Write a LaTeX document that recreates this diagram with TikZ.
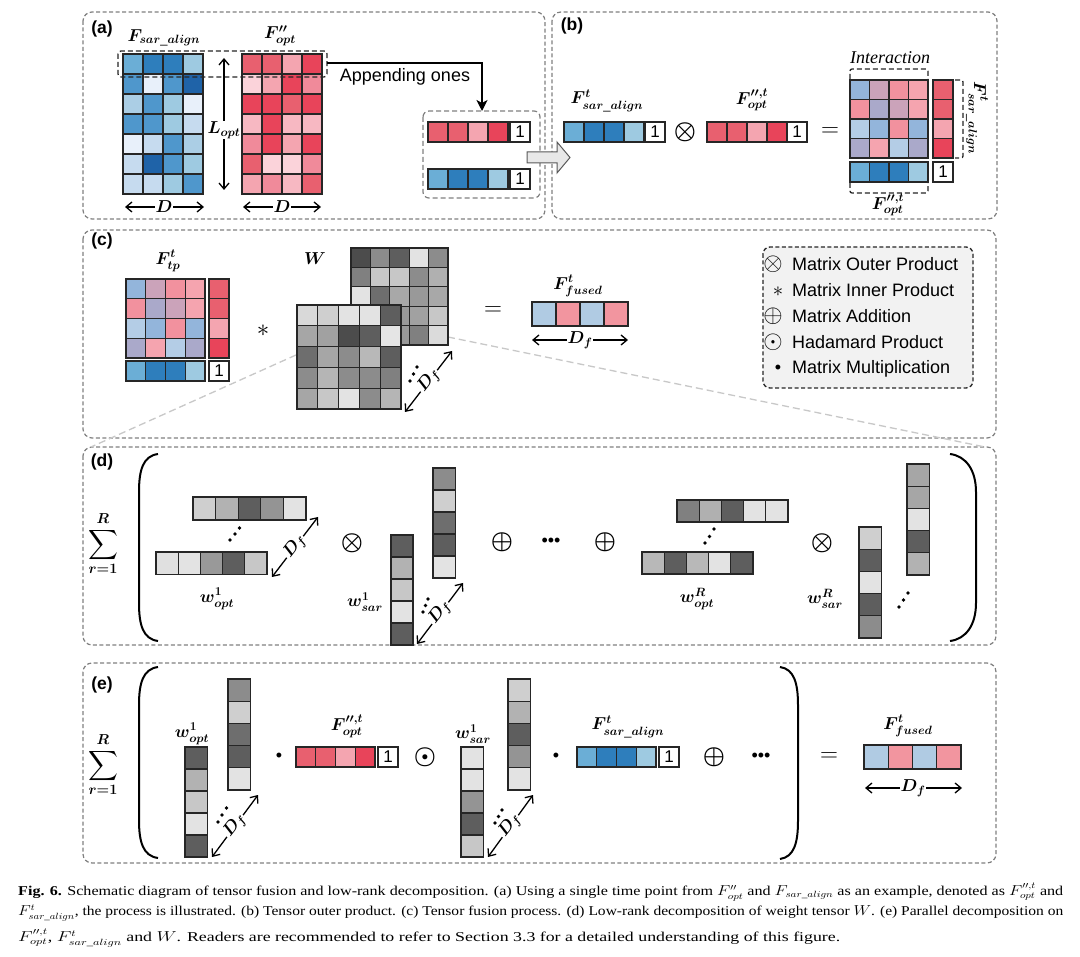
\documentclass[tikz,border=0pt]{standalone}
\usepackage{fontspec}
\setmainfont{Liberation Sans}
\newfontfamily\capfont{Liberation Serif}
\usepackage{amsmath}
\usepackage{bm}
\usepackage{graphicx}
\usetikzlibrary{arrows.meta}
\definecolor{bA}{HTML}{6BAED6}
\definecolor{bB}{HTML}{2E7EBC}
\definecolor{bC}{HTML}{9ECAE1}
\definecolor{bD}{HTML}{1F63A8}
\definecolor{bE}{HTML}{E8F0FA}
\definecolor{bF}{HTML}{C6DBEF}
\definecolor{bG}{HTML}{4F97CC}
\definecolor{bH}{HTML}{ABCEE5}
\definecolor{rA}{HTML}{E8606F}
\definecolor{rB}{HTML}{F4A5B0}
\definecolor{rC}{HTML}{E8445A}
\definecolor{rD}{HTML}{FBD3DA}
\definecolor{rE}{HTML}{F08A9A}
\definecolor{rF}{HTML}{F7B8C2}
\definecolor{mA}{HTML}{93B5DB}
\definecolor{mB}{HTML}{CBA3BA}
\definecolor{mC}{HTML}{F2919E}
\definecolor{mD}{HTML}{F5A4AF}
\definecolor{mE}{HTML}{AAA9CA}
\definecolor{mF}{HTML}{B4CDE6}
\definecolor{fB}{HTML}{B0CBE3}
\definecolor{fR}{HTML}{F2959F}
\definecolor{panel}{HTML}{808080}
\definecolor{zoomline}{HTML}{C8C8C8}
\definecolor{legfill}{HTML}{F2F2F2}
\definecolor{arrfill}{HTML}{E8E8E8}
\newcommand{\hcells}[5]{\foreach \cc [count=\ii from 0] in {#5}{\draw[cell,fill=\cc] ({#1+\ii*#3},{#2}) rectangle ++(#3,#4);}}
\newcommand{\vcells}[5]{\foreach \cc [count=\ii from 0] in {#5}{\draw[cell,fill=\cc] ({#1},{#2+\ii*#4}) rectangle ++(#3,#4);}}
\newcommand{\tdots}[6]{\fill (#1,#2) circle (1.8); \fill (#3,#4) circle (1.8); \fill (#5,#6) circle (1.8);}
\tikzset{
  cell/.style={draw=black!85, line width=1.2},
  panelbox/.style={draw=panel, dash pattern=on 4pt off 2.5pt, line width=1.2, rounded corners=9},
  selbox/.style={draw=black!85, dash pattern=on 5pt off 3pt, line width=1.3},
  lbl/.style={font=\fontsize{18.5}{22}\selectfont\boldmath, inner sep=1},
  sans/.style={font=\fontsize{18}{21}\selectfont, inner sep=0},
  plab/.style={font=\fontsize{17.5}{20}\selectfont\bfseries, inner sep=0},
  onebox/.style={draw=black!85, line width=1.2, fill=white, minimum width=20, minimum height=20, inner sep=0, font=\fontsize{17}{20}\selectfont},
  opsym/.style={font=\fontsize{26}{28}\selectfont\boldmath, inner sep=0},
  eqsym/.style={font=\fontsize{24}{26}\selectfont, inner sep=0},
  dotsym/.style={font=\fontsize{18}{22}\selectfont, inner sep=0},
  legsym/.style={font=\fontsize{26}{28}\selectfont, inner sep=0},
  dimarr/.style={{Straight Barb[length=6,width=10]}-{Straight Barb[length=6,width=10]}, line width=1.3},
  dimlbl/.style={font=\fontsize{18}{21}\selectfont\boldmath, fill=white, inner sep=1},
  sumlbl/.style={font=\fontsize{21}{24}\selectfont\boldmath, inner sep=0},
  paren/.style={line width=2},
  zoomln/.style={draw=zoomline, dash pattern=on 7pt off 4pt, line width=1.3},
  capline/.style={anchor=west, inner sep=0},
}
\begin{document}
\begin{tikzpicture}[x=1pt,y=-1pt]
\useasboundingbox (0,0) rectangle (1080,957);
\fill[white] (0,0) rectangle (1080,957);

% ---------- panel frames ----------
\draw[panelbox] (83,12) rectangle (545,219);
\draw[panelbox] (552,12) rectangle (997,219);
\draw[panelbox] (83,230) rectangle (996,438);
\draw[panelbox] (83,447) rectangle (996,645);
\draw[panelbox] (83,663) rectangle (996,863);

\node[plab] (pa) at (102,29) {(a)};
\node[plab] (pb) at (572,26) {(b)};
\node[plab] (pc) at (102,241) {(c)};
\node[plab] (pd) at (102,462) {(d)};
\node[plab] (pe) at (102,685) {(e)};

% ---------- (a) ----------
\node[lbl] (Fsar) at (164,38) {$F_{sar\_align}$};
\node[lbl] (Fopt) at (280,36) {$F''_{opt}$};
\hcells{123}{54}{20}{20}{bA,bB,bB,bC}
\hcells{123}{74}{20}{20}{bG,bE,bG,bD}
\hcells{123}{94}{20}{20}{bH,bG,bC,bE}
\hcells{123}{114}{20}{20}{bG,bG,bC,bF}
\hcells{123}{134}{20}{20}{bE,bF,bG,bH}
\hcells{123}{154}{20}{20}{bF,bD,bG,bC}
\hcells{123}{174}{20}{20}{bF,bF,bC,bG}
\hcells{242}{54}{20}{20}{rA,rA,rB,rC}
\hcells{242}{74}{20}{20}{rD,rB,rC,rE}
\hcells{242}{94}{20}{20}{rC,rC,rA,rC}
\hcells{242}{114}{20}{20}{rF,rC,rF,rF}
\hcells{242}{134}{20}{20}{rE,rC,rB,rC}
\hcells{242}{154}{20}{20}{rA,rD,rD,rE}
\hcells{242}{174}{20}{20}{rB,rE,rF,rA}
\draw[selbox, rounded corners=3] (118,51) rectangle (327,77);
\coordinate (Lt) at (224,58);
\coordinate (Lb) at (224,190);
\draw[dimarr] (Lt) -- (Lb);
\node[dimlbl] (Lopt) at (224,130) {$L_{opt}$};
\coordinate (Da1) at (125,207); \coordinate (Da2) at (204,207);
\draw[dimarr] (Da1) -- (Da2);
\node[dimlbl] (Da) at (164,207) {$D$};
\coordinate (Db1) at (243,207); \coordinate (Db2) at (321,207);
\draw[dimarr] (Db1) -- (Db2);
\node[dimlbl] (Db) at (282,207) {$D$};
\coordinate (selR) at (327,63);
\coordinate (appT) at (482,111);
\draw[line width=1.3, -{Stealth[length=11,width=11,inset=3]}] (selR) -| (appT);
\node[sans] (app) at (405,77) {Appending ones};
\draw[draw=panel, dash pattern=on 5pt off 3pt, line width=1.2, rounded corners=6] (423,111) rectangle (540,198);
\hcells{428}{122}{20}{20}{rA,rA,rB,rC}
\node[onebox] (oneA1) at (520,132) {1};
\hcells{428}{169}{20}{20}{bA,bB,bB,bC}
\node[onebox] (oneA2) at (520,179) {1};
\draw[fill=arrfill, draw=black!65, line width=1] (527,152) -- (557,152) -- (557,142) -- (570,157.5) -- (557,173) -- (557,163) -- (527,163) -- cycle;

% ---------- (b) ----------
\node[lbl] (bFs) at (607,101) {$F^{t}_{sar\_align}$};
\hcells{564}{122}{20}{20}{bA,bB,bB,bC}
\node[onebox] (oneB1) at (655,132) {1};
\node[opsym] (otB) at (685,132) {$\otimes$};
\node[lbl] (bFo) at (752,100) {$F^{\prime\prime,t}_{opt}$};
\hcells{707}{122}{20}{20}{rA,rA,rB,rC}
\node[onebox] (oneB2) at (797,132) {1};
\node[eqsym] (eqB) at (830,132) {$=$};
\node[font=\capfont\itshape\fontsize{18}{20}\selectfont, inner sep=0] (inter) at (890,58) {Interaction};
\hcells{850}{80}{19.5}{19.5}{mA,mB,mC,mD}
\hcells{850}{99.5}{19.5}{19.5}{mC,mE,mB,mD}
\hcells{850}{119}{19.5}{19.5}{mF,mA,mC,mA}
\hcells{850}{138.5}{19.5}{19.5}{mE,mD,mF,mE}
\vcells{933}{80}{20}{19.5}{rA,rA,rB,rC}
\hcells{850}{162}{19.5}{20}{bA,bB,bB,bC}
\node[onebox] (oneB3) at (943,172) {1};
\draw[selbox, rounded corners=2] (850,79) -- (850,69) -- (928,69) -- (928,79);
\draw[selbox, rounded corners=2] (850,183) -- (850,193) -- (928,193) -- (928,183);
\draw[selbox, rounded corners=2] (955,80) -- (963,80) -- (963,158) -- (955,158);
\node[lbl, rotate=-90] (bFs2) at (977,118) {$F^{t}_{sar\_align}$};
\node[lbl] (bFo2) at (888,205) {$F^{\prime\prime,t}_{opt}$};

% ---------- (c) ----------
\draw[zoomln] (296,355) -- (91,447);
\draw[zoomln] (448,337) -- (985,447);
\node[lbl] (Ftp) at (168,261) {$F^{t}_{tp}$};
\hcells{126}{279}{19.75}{19.75}{mA,mB,mC,mD}
\hcells{126}{298.75}{19.75}{19.75}{mC,mE,mB,mD}
\hcells{126}{318.5}{19.75}{19.75}{mF,mA,mC,mA}
\hcells{126}{338.25}{19.75}{19.75}{mE,mD,mF,mE}
\vcells{209}{279}{20}{19.75}{rA,rA,rB,rC}
\hcells{126}{361}{19.75}{20}{bA,bB,bB,bC}
\node[onebox] (oneC) at (219,371) {1};
\node[font=\fontsize{30}{32}\selectfont, inner sep=0] (astC) at (263,331) {$\ast$};
\node[lbl] (Wlab) at (315,259) {$W$};
\hcells{351}{248}{19.4}{19.4}{black!70,black!45,black!63,black!11,black!45}
\hcells{351}{267.4}{19.4}{19.4}{black!50,black!22,black!22,black!45,black!31}
\hcells{351}{286.8}{19.4}{19.4}{black!11,black!57,black!34,black!40,black!34}
\hcells{351}{306.2}{19.4}{19.4}{black!40,black!40,black!40,black!37,black!22}
\hcells{351}{325.6}{19.4}{19.4}{black!40,black!40,black!40,black!50,black!14}
\hcells{297}{305}{20.8}{20.8}{black!15,black!19,black!11,black!11,black!63}
\hcells{297}{325.8}{20.8}{20.8}{black!35,black!37,black!70,black!63,black!10}
\hcells{297}{346.6}{20.8}{20.8}{black!57,black!35,black!45,black!28,black!63}
\hcells{297}{367.4}{20.8}{20.8}{black!45,black!29,black!45,black!45,black!50}
\hcells{297}{388.2}{20.8}{20.8}{black!35,black!22,black!11,black!45,black!29}
\tdots{410}{381}{413.5}{374}{417}{367}
\coordinate (Dc1) at (405,412); \coordinate (Dc2) at (452,351);
\draw[dimarr] (Dc1) -- (Dc2);
\node[dimlbl, rotate=52] (Dc) at (429,381) {$D_f$};
\node[eqsym] (eqC) at (493,311) {$=$};
\node[lbl] (Ffc) at (578,286) {$F^{t}_{fused}$};
\hcells{532}{302}{24}{24}{fB,fR,fB,fR}
\coordinate (Df1) at (532,340); \coordinate (Df2) at (628,340);
\draw[dimarr] (Df1) -- (Df2);
\node[dimlbl] (Dfc) at (580,340) {$D_f$};
% legend
\draw[draw=black!85, fill=legfill, dash pattern=on 4pt off 2.5pt, line width=1.3, rounded corners=7] (763,247) rectangle (973,388);
\node[legsym] (l1s) at (773,264) {$\otimes$};
\node[sans, anchor=west] (l1) at (792,264) {Matrix Outer Product};
\node[font=\fontsize{22}{24}\selectfont, inner sep=0] (l2s) at (778,292) {$\ast$};
\node[sans, anchor=west] (l2) at (792,290) {Matrix Inner Product};
\node[legsym] (l3s) at (773,316) {$\oplus$};
\node[sans, anchor=west] (l3) at (792,316) {Matrix Addition};
\node[legsym] (l4s) at (773,342) {$\odot$};
\node[sans, anchor=west] (l4) at (792,342) {Hadamard Product};
\node[sans] (l5s) at (778,369) {•};
\node[sans, anchor=west] (l5) at (792,369) {Matrix Multiplication};

% ---------- (d) ----------
\node[sumlbl] (sumD) at (103,544) {$\displaystyle\sum_{r=1}^{R}$};
\draw[paren] (158,454) .. controls (143,456) and (139,470) .. (139,492) -- (139,603) .. controls (139,625) and (143,639) .. (158,641);
\draw[paren] (950,454) .. controls (966,456) and (976,470) .. (976,492) -- (976,603) .. controls (976,625) and (966,639) .. (950,641);
\hcells{193}{497}{22.6}{23}{black!19,black!30,black!63,black!42,black!11}
\hcells{156}{552}{22.2}{22.5}{black!12,black!11,black!40,black!63,black!22}
\tdots{230}{540}{235}{534}{239.5}{528}
\coordinate (Dd1) at (272,577); \coordinate (Dd2) at (318,517);
\draw[dimarr] (Dd1) -- (Dd2);
\node[dimlbl, rotate=52] (Dd) at (295,547) {$D_f$};
\node[lbl] (wo1) at (217,599) {$w^{1}_{opt}$};
\node[opsym] (otD1) at (352,543) {$\otimes$};
\vcells{391}{535}{22}{22}{black!63,black!30,black!22,black!11,black!63}
\vcells{433}{468}{22.5}{22}{black!45,black!19,black!57,black!63,black!11}
\tdots{423}{612}{425.5}{605.5}{428}{599}
\coordinate (Dd3) at (417,644); \coordinate (Dd4) at (463,583);
\draw[dimarr] (Dd3) -- (Dd4);
\node[dimlbl, rotate=52] (Dds) at (440,613) {$D_f$};
\node[lbl] (ws1) at (365,602) {$w^{1}_{sar}$};
\node[opsym] (opD1) at (502,542) {$\oplus$};
\node[dotsym] (cdD) at (551,542) {•••};
\node[opsym] (opD2) at (605,542) {$\oplus$};
\hcells{677}{500}{22.2}{22}{black!50,black!31,black!63,black!11,black!11}
\hcells{642}{552}{22.2}{22}{black!28,black!63,black!28,black!11,black!63}
\tdots{705}{543}{709.5}{536.5}{714}{529}
\node[lbl] (woR) at (697,599) {$w^{R}_{opt}$};
\node[opsym] (otD2) at (822,543) {$\otimes$};
\vcells{859}{527}{22.5}{22.2}{black!19,black!63,black!11,black!63,black!45}
\vcells{907}{464}{22.5}{22.2}{black!35,black!35,black!11,black!63,black!30}
\tdots{899}{607}{903.5}{600}{908}{593}
\node[lbl] (wsR) at (825,599) {$w^{R}_{sar}$};

% ---------- (e) ----------
\node[sumlbl] (sumE) at (103,765) {$\displaystyle\sum_{r=1}^{R}$};
\draw[paren] (158,667) .. controls (143,669) and (139,683) .. (139,705) -- (139,820) .. controls (139,842) and (143,856) .. (158,858);
\draw[paren] (780,667) .. controls (794,669) and (798,683) .. (798,705) -- (798,821) .. controls (798,843) and (794,857) .. (780,859);
\node[lbl] (ewo) at (192,734) {$w^{1}_{opt}$};
\vcells{185}{747}{22.5}{22}{black!63,black!30,black!22,black!11,black!63}
\vcells{228}{679}{22.5}{22.2}{black!45,black!19,black!57,black!63,black!11}
\tdots{218}{822}{222}{815}{226.5}{808}
\coordinate (De1) at (212,857); \coordinate (De2) at (258,795);
\draw[dimarr] (De1) -- (De2);
\node[dimlbl, rotate=52] (De) at (235,826) {$D_f$};
\node[dotsym] (dotE1) at (279,757) {•};
\node[lbl] (eFo) at (347,726) {$F^{\prime\prime,t}_{opt}$};
\hcells{296}{747}{19.75}{20}{rA,rA,rB,rC}
\node[onebox] (oneE1) at (388,757) {1};
\node[opsym] (odE) at (425,757) {$\odot$};
\node[lbl] (ews) at (473,734) {$w^{1}_{sar}$};
\vcells{461}{747}{22.5}{22}{black!11,black!11,black!42,black!63,black!22}
\vcells{508}{679}{22.5}{22.2}{black!19,black!30,black!63,black!42,black!11}
\tdots{495}{823}{498.5}{816.5}{502}{810}
\coordinate (De3) at (488,857); \coordinate (De4) at (533,795);
\draw[dimarr] (De3) -- (De4);
\node[dimlbl, rotate=52] (Des) at (510,826) {$D_f$};
\node[dotsym] (dotE2) at (556,757) {•};
\node[lbl] (eFs) at (628,727) {$F^{t}_{sar\_align}$};
\hcells{577}{747}{19.75}{20}{bA,bB,bB,bC}
\node[onebox] (oneE2) at (669,757) {1};
\node[opsym] (opE) at (714,757) {$\oplus$};
\node[dotsym] (cdE) at (761,757) {•••};
\node[eqsym] (eqE) at (829,757) {$=$};
\node[lbl] (eFf) at (908,726) {$F^{t}_{fused}$};
\hcells{864}{745}{24.25}{24}{fB,fR,fB,fR}
\coordinate (De5) at (865,788); \coordinate (De6) at (962,788);
\draw[dimarr] (De5) -- (De6);
\node[dimlbl] (Dfe) at (913,788) {$D_f$};

% ---------- caption ----------
\node[capline] (cap1) at (18,892) {\resizebox{1045pt}{\height}{\capfont\fontsize{13.5}{16}\selectfont\textbf{Fig. 6.} Schematic diagram of tensor fusion and low-rank decomposition. (a) Using a single time point from $F''_{opt}$ and $F_{sar\_align}$ as an example, denoted as $F^{\prime\prime,t}_{opt}$ and}};
\node[capline] (cap2) at (18,913) {\resizebox{1045pt}{\height}{\capfont\fontsize{13.5}{16}\selectfont$F^{t}_{sar\_align}$, the process is illustrated. (b) Tensor outer product. (c) Tensor fusion process. (d) Low-rank decomposition of weight tensor $W$. (e) Parallel decomposition on}};
\node[capline] (cap3) at (18,938) {\resizebox{822pt}{\height}{\capfont\fontsize{13.5}{16}\selectfont$F^{\prime\prime,t}_{opt}$, $F^{t}_{sar\_align}$ and $W$. Readers are recommended to refer to Section 3.3 for a detailed understanding of this figure.}};
\end{tikzpicture}
\end{document}
